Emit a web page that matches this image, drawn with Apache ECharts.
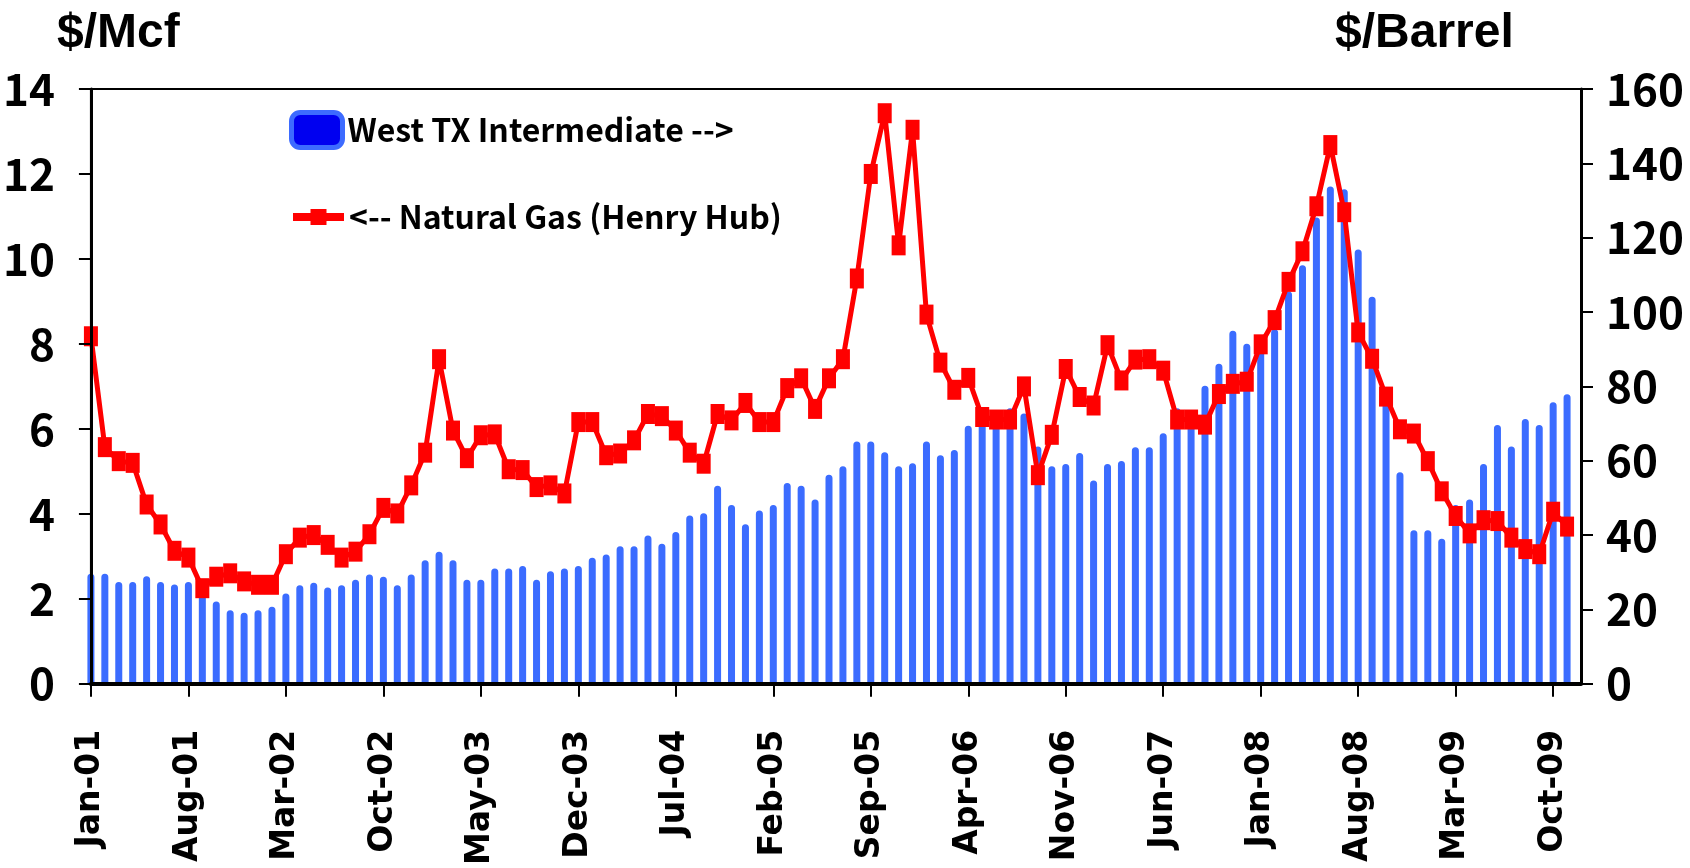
<!DOCTYPE html>
<html>
<head>
<meta charset="utf-8">
<script src="https://cdn.jsdelivr.net/npm/echarts@6/dist/echarts.min.js"></script>
<style>
  html, body { margin: 0; padding: 0; background: #fff; }
  #chart { width: 1690px; height: 868px; }
</style>
</head>
<body>
<div id="chart"></div>
<script>
// monthly categories Jan-01 .. Dec-09
var months = ['Jan', 'Feb', 'Mar', 'Apr', 'May', 'Jun', 'Jul', 'Aug', 'Sep', 'Oct', 'Nov', 'Dec'];
var years = ['01', '02', '03', '04', '05', '06', '07', '08', '09'];

// West TX Intermediate, $/Barrel (right axis)
var wti = [
  29.6, 29.6, 27.4, 27.4, 28.9, 27.4, 26.7, 27.4, 26.2, 22.1,
  19.8, 19.1, 19.8, 20.7, 24.3, 26.5, 27.2, 25.9, 26.5, 28.0,
  29.4, 28.8, 26.5, 29.4, 33.2, 35.5, 33.2, 28.0, 28.0, 31.0,
  31.0, 31.7, 28.0, 30.3, 31.0, 31.7, 33.9, 34.8, 37.0, 37.0,
  39.9, 37.7, 40.8, 45.3, 45.9, 53.3, 48.1, 42.9, 46.6, 48.1,
  54.0, 53.3, 49.6, 56.2, 58.5, 65.2, 65.2, 62.3, 58.5, 59.3,
  65.2, 61.5, 62.9, 69.4, 70.8, 70.8, 74.1, 72.7, 63.8, 58.5,
  59.1, 62.1, 54.7, 59.1, 59.9, 63.6, 63.6, 67.4, 74.1, 72.4,
  80.2, 86.1, 95.0, 91.5, 93.0, 95.4, 105.5, 112.6, 125.4, 133.8,
  133.0, 116.8, 104.1, 76.6, 56.9, 41.3, 41.3, 39.0, 48.1, 49.6,
  59.1, 69.6, 63.8, 71.2, 69.6, 75.7, 77.9, null
];

// Natural Gas (Henry Hub), $/Mcf (left axis)
var gas = [
  8.18, 5.57, 5.24, 5.20, 4.22, 3.75, 3.13, 2.97, 2.25, 2.52,
  2.60, 2.41, 2.33, 2.33, 3.05, 3.44, 3.50, 3.27, 2.97, 3.11,
  3.52, 4.14, 4.01, 4.67, 5.44, 7.64, 5.96, 5.31, 5.85, 5.87,
  5.05, 5.03, 4.63, 4.67, 4.48, 6.16, 6.16, 5.38, 5.42, 5.73,
  6.35, 6.30, 5.96, 5.44, 5.18, 6.35, 6.20, 6.61, 6.16, 6.16,
  6.96, 7.19, 6.47, 7.19, 7.64, 9.54, 12.00, 13.43, 10.32, 13.04,
  8.69, 7.56, 6.92, 7.20, 6.28, 6.22, 6.22, 7.00, 4.91, 5.86,
  7.41, 6.75, 6.55, 7.97, 7.14, 7.63, 7.64, 7.37, 6.22, 6.22,
  6.10, 6.82, 7.06, 7.11, 7.99, 8.56, 9.46, 10.18, 11.24, 12.68,
  11.10, 8.27, 7.65, 6.76, 5.99, 5.89, 5.24, 4.53, 3.95, 3.54,
  3.85, 3.83, 3.44, 3.17, 3.05, 4.05, 3.70, null
];

var categories = [];
years.forEach(function (y) {
  months.forEach(function (m) { categories.push(m + '-' + y); });
});

var narrow = "'Noto Sans CJK JP', 'DejaVu Sans Condensed', sans-serif";

var myChart = echarts.init(document.getElementById('chart'));
myChart.setOption({
  animation: false,
  backgroundColor: '#fff',
  grid: {
    left: 85, right: 109, top: 89, height: 597,
    show: true, borderColor: '#000', borderWidth: 2, backgroundColor: 'transparent'
  },
  graphic: [
    { type: 'text', left: 57, top: 10,
      style: { text: '$/Mcf', font: "bold 48px 'Liberation Sans', Arial, sans-serif", fill: '#000' } },
    { type: 'text', left: 1335, top: 10,
      style: { text: '$/Barrel', font: "bold 48px 'Liberation Sans', Arial, sans-serif", fill: '#000' } }
  ],
  legend: [
    {
      data: [{ name: 'West TX Intermediate -->', icon: 'roundRect',
        itemStyle: { color: '#0000f0', borderColor: '#3d6bff', borderWidth: 5 } }],
      left: 289, top: 110, padding: 0,
      itemWidth: 51, itemHeight: 35,
      textStyle: { fontFamily: narrow, fontWeight: 'bold', fontSize: 32, color: '#000' }
    },
    {
      data: ['<-- Natural Gas (Henry Hub)'],
      left: 289, top: 201, padding: 0,
      itemWidth: 51, itemHeight: 20,
      lineStyle: { width: 8 },
      textStyle: { fontFamily: narrow, fontWeight: 'bold', fontSize: 32, color: '#000' }
    }
  ],
  xAxis: {
    type: 'category',
    data: categories,
    boundaryGap: false,
    z: 5,
    axisLine: { lineStyle: { color: '#000', width: 4 } },
    axisTick: { interval: 6, length: 13, lineStyle: { color: '#000', width: 2 } },
    axisLabel: {
      interval: 6, rotate: 90, margin: 46,
      fontFamily: "'DejaVu Sans', sans-serif", fontWeight: 'bold', fontSize: 33, color: '#000'
    },
    splitLine: { show: false }
  },
  yAxis: [
    {
      type: 'value', min: 0, max: 14, interval: 2, position: 'left', z: 5,
      axisLine: { show: true, lineStyle: { color: '#000', width: 3 } },
      axisTick: { show: true, length: 12, lineStyle: { color: '#000', width: 2 } },
      axisLabel: { margin: 36, fontFamily: narrow, fontWeight: 'bold', fontSize: 44, color: '#000' },
      splitLine: { show: false }
    },
    {
      type: 'value', min: 0, max: 160, interval: 20, position: 'right', z: 5,
      axisLine: { show: true, lineStyle: { color: '#000', width: 3 } },
      axisTick: { show: true, length: 12, lineStyle: { color: '#000', width: 2 } },
      axisLabel: { margin: 25, fontFamily: narrow, fontWeight: 'bold', fontSize: 44, color: '#000' },
      splitLine: { show: false }
    }
  ],
  series: [
    {
      name: 'West TX Intermediate -->',
      type: 'bar',
      yAxisIndex: 1,
      data: wti,
      barWidth: 7,
      clip: true,
      itemStyle: { color: '#3b6cff', borderColor: '#3b6cff', borderWidth: 1.5, borderRadius: [3.5, 3.5, 0, 0] }
    },
    {
      name: '<-- Natural Gas (Henry Hub)',
      type: 'line',
      yAxisIndex: 0,
      data: gas,
      symbol: 'rect',
      symbolSize: [14, 20],
      showAllSymbol: true,
      lineStyle: { color: '#ff0000', width: 5 },
      itemStyle: { color: '#ff0000' },
      z: 3
    }
  ]
});
</script>
</body>
</html>
